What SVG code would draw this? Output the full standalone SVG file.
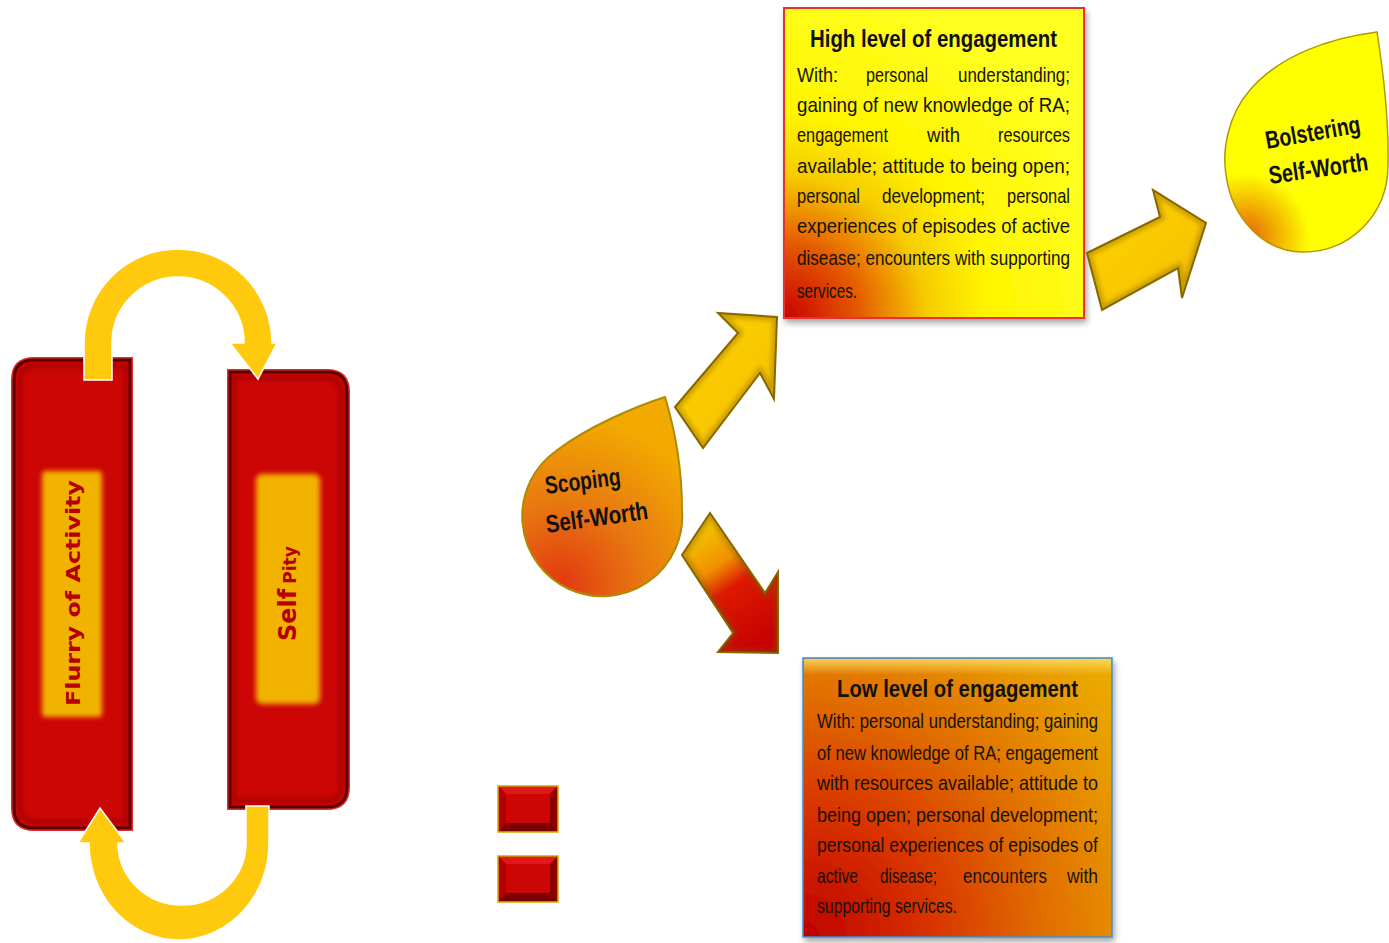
<svg xmlns="http://www.w3.org/2000/svg" width="1389" height="943" viewBox="0 0 1389 943">
<style>
.body{font-family:"Liberation Sans",Arial,sans-serif;font-size:21px;fill:#161200}
.title{font-family:"Liberation Sans",Arial,sans-serif;font-size:23px;font-weight:bold;fill:#111}
.drop{font-family:"Liberation Sans",Arial,sans-serif;font-size:25px;font-weight:bold;fill:#111}
.vert{font-family:"DejaVu Sans","Liberation Sans",sans-serif;font-weight:bold;fill:#B40000}
.redbox{fill:#CC0505;stroke:#5a0000;stroke-width:3}
.redglow{fill:none;stroke:#E23030;stroke-width:6}
.inner{fill:#F2B300;filter:url(#soft)}
.cyc{fill:#FFC90E;stroke:#fff;stroke-width:1.5}
.arrow{stroke:#8A6A00;stroke-width:2;stroke-linejoin:miter}
.abev{fill:none;stroke:#7A5A00;stroke-width:9;opacity:0.35;filter:url(#bevel)}
</style>
<defs>
<filter id="soft" x="-20%" y="-20%" width="140%" height="140%"><feGaussianBlur stdDeviation="2.5"/></filter>
<filter id="shadow" x="-10%" y="-10%" width="125%" height="125%"><feDropShadow dx="2" dy="4" stdDeviation="3" flood-color="#000" flood-opacity="0.35"/></filter>
<filter id="bevel" x="-10%" y="-10%" width="120%" height="120%"><feGaussianBlur stdDeviation="2"/></filter>
<clipPath id="clipA1"><polygon points="675,407 738,333 718,313 777,317 774,399 760,373 703,448"/></clipPath>
<clipPath id="clipA2"><polygon points="710,513 765,593 778,572 778,653 718,652 733,633 682,555"/></clipPath>
<clipPath id="clipA3"><polygon points="1087,253 1160,217 1153,190 1206,223 1182,298 1178,268 1102,310"/></clipPath>
<radialGradient id="hiGrad" gradientUnits="userSpaceOnUse" cx="784" cy="318" r="340">
<stop offset="0" stop-color="#C80000"/><stop offset="0.22" stop-color="#E55A00"/><stop offset="0.42" stop-color="#F6CC00"/><stop offset="0.6" stop-color="#FFF500"/><stop offset="1" stop-color="#FFFF20"/>
</radialGradient>
<radialGradient id="loGrad" gradientUnits="userSpaceOnUse" cx="803" cy="937" r="430">
<stop offset="0" stop-color="#C00000"/><stop offset="0.3" stop-color="#D83400"/><stop offset="0.55" stop-color="#E06C00"/><stop offset="0.8" stop-color="#E89A00"/><stop offset="1" stop-color="#EEB200"/>
</radialGradient>
<linearGradient id="loTop" x1="0" y1="0" x2="0" y2="1">
<stop offset="0" stop-color="#FFE070" stop-opacity="0.8"/><stop offset="1" stop-color="#FFE070" stop-opacity="0"/>
</linearGradient>
<radialGradient id="scopeGrad" gradientUnits="userSpaceOnUse" cx="560" cy="585" r="170">
<stop offset="0" stop-color="#E23810"/><stop offset="0.5" stop-color="#E87A10"/><stop offset="1" stop-color="#F2AA00"/>
</radialGradient>
<radialGradient id="bolsGrad" gradientUnits="userSpaceOnUse" cx="1245" cy="238" r="65">
<stop offset="0" stop-color="#E45A10"/><stop offset="0.5" stop-color="#F2B000"/><stop offset="1" stop-color="#FFFF00"/>
</radialGradient>
<linearGradient id="gold" x1="0" y1="0" x2="1" y2="1">
<stop offset="0" stop-color="#FFD400"/><stop offset="1" stop-color="#F5BE00"/>
</linearGradient>
<linearGradient id="downGrad" gradientUnits="userSpaceOnUse" x1="696" y1="534" x2="768" y2="640">
<stop offset="0" stop-color="#F4C200"/><stop offset="0.3" stop-color="#F09000"/><stop offset="0.5" stop-color="#DD1A00"/><stop offset="1" stop-color="#C80000"/>
</linearGradient>
</defs>

<!-- Flurry of Activity -->
<g id="node-flurry">
<path class="redglow" d="M34 360 L130 360 L130 828 L34 828 Q14 828 14 808 L14 380 Q14 360 34 360 Z"/>
<path class="redbox" d="M34 360 L130 360 L130 828 L34 828 Q14 828 14 808 L14 380 Q14 360 34 360 Z"/>
<path d="M36 366 L126 366 L126 822 L36 822 Q20 822 20 806 L20 382 Q20 366 36 366 Z" fill="none" stroke="#7a0000" stroke-width="3" opacity="0.6" filter="url(#bevel)"/>
<rect class="inner" x="42" y="471" width="60" height="246" rx="4"/>
<text class="vert" font-size="20" transform="translate(80,706) rotate(-90)" textLength="226" lengthAdjust="spacingAndGlyphs">Flurry of Activity</text>
</g>

<!-- Self Pity -->
<g id="node-selfpity">
<path class="redglow" d="M230 372 L327 372 Q347 372 347 392 L347 787 Q347 807 327 807 L230 807 Z"/>
<path class="redbox" d="M230 372 L327 372 Q347 372 347 392 L347 787 Q347 807 327 807 L230 807 Z"/>
<path d="M234 378 L325 378 Q341 378 341 394 L341 785 Q341 801 325 801 L234 801 Z" fill="none" stroke="#7a0000" stroke-width="3" opacity="0.6" filter="url(#bevel)"/>
<rect class="inner" x="256" y="474" width="64" height="230" rx="6"/>
<text class="vert" transform="translate(296,641) rotate(-90)"><tspan font-size="24">Self</tspan><tspan font-size="17" dx="5">Pity</tspan></text>
</g>

<!-- Scoping Self-Worth -->
<g id="node-scoping">
<path d="M556 451 A80 80 0 1 0 682 510 C682 470 675 430 665 397 C640 405 590 425 556 451 Z" fill="url(#scopeGrad)" stroke="#B08A00" stroke-width="2"/>
<text class="drop" transform="translate(546,494) rotate(-7)" textLength="76" lengthAdjust="spacingAndGlyphs">Scoping</text>
<text class="drop" transform="translate(547,533) rotate(-8)" textLength="103" lengthAdjust="spacingAndGlyphs">Self-Worth</text>
</g>

<!-- High level of engagement -->
<g id="node-high">
<rect x="784" y="8" width="300" height="310" fill="url(#hiGrad)" stroke="#E53030" stroke-width="2" filter="url(#shadow)"/>
<text class="title" x="810" y="47" textLength="247" lengthAdjust="spacingAndGlyphs">High level of engagement</text>
<text class="body" y="82"><tspan x="797" textLength="41" lengthAdjust="spacingAndGlyphs">With:</tspan> <tspan x="866" textLength="62" lengthAdjust="spacingAndGlyphs">personal</tspan> <tspan x="958" textLength="112" lengthAdjust="spacingAndGlyphs">understanding;</tspan></text>
<text class="body" x="797" y="112" textLength="273" lengthAdjust="spacingAndGlyphs">gaining of new knowledge of RA;</text>
<text class="body" y="142"><tspan x="797" textLength="91" lengthAdjust="spacingAndGlyphs">engagement</tspan> <tspan x="927" textLength="33" lengthAdjust="spacingAndGlyphs">with</tspan> <tspan x="998" textLength="72" lengthAdjust="spacingAndGlyphs">resources</tspan></text>
<text class="body" x="797" y="173" textLength="273" lengthAdjust="spacingAndGlyphs">available; attitude to being open;</text>
<text class="body" y="203"><tspan x="797" textLength="63" lengthAdjust="spacingAndGlyphs">personal</tspan> <tspan x="882" textLength="103" lengthAdjust="spacingAndGlyphs">development;</tspan> <tspan x="1007" textLength="63" lengthAdjust="spacingAndGlyphs">personal</tspan></text>
<text class="body" x="797" y="233" textLength="273" lengthAdjust="spacingAndGlyphs">experiences of episodes of active</text>
<text class="body" x="797" y="265" textLength="273" lengthAdjust="spacingAndGlyphs">disease; encounters with supporting</text>
<text class="body" x="797" y="298" textLength="60" lengthAdjust="spacingAndGlyphs">services.</text>
</g>

<!-- Low level of engagement -->
<g id="node-low">
<rect x="803" y="658" width="309" height="279" fill="url(#loGrad)" stroke="#3E8ED8" stroke-width="1.5" filter="url(#shadow)"/>
<rect x="804" y="659" width="307" height="16" fill="url(#loTop)"/>
<text class="title" x="837" y="697" textLength="241" lengthAdjust="spacingAndGlyphs">Low level of engagement</text>
<text class="body" x="817" y="728" textLength="281" lengthAdjust="spacingAndGlyphs">With: personal understanding; gaining</text>
<text class="body" x="817" y="760" textLength="281" lengthAdjust="spacingAndGlyphs">of new knowledge of RA; engagement</text>
<text class="body" x="817" y="790" textLength="281" lengthAdjust="spacingAndGlyphs">with resources available; attitude to</text>
<text class="body" x="817" y="822" textLength="281" lengthAdjust="spacingAndGlyphs">being open; personal development;</text>
<text class="body" x="817" y="852" textLength="281" lengthAdjust="spacingAndGlyphs">personal experiences of episodes of</text>
<text class="body" y="883"><tspan x="817" textLength="41" lengthAdjust="spacingAndGlyphs">active</tspan> <tspan x="880" textLength="57" lengthAdjust="spacingAndGlyphs">disease;</tspan> <tspan x="963" textLength="84" lengthAdjust="spacingAndGlyphs">encounters</tspan> <tspan x="1067" textLength="31" lengthAdjust="spacingAndGlyphs">with</tspan></text>
<text class="body" x="817" y="913" textLength="140" lengthAdjust="spacingAndGlyphs">supporting services.</text>
</g>

<!-- Bolstering Self-Worth -->
<g id="node-bolstering">
<path d="M1377 32 C1330 38 1280 55 1250 90 C1228 115 1222 150 1226 175 C1232 220 1265 252 1303 252 C1350 252 1388 215 1388 165 C1389 120 1383 70 1377 32 Z" fill="url(#bolsGrad)" stroke="#B09A00" stroke-width="1.5"/>
<text class="drop" transform="translate(1267,149) rotate(-10)" textLength="96" lengthAdjust="spacingAndGlyphs">Bolstering</text>
<text class="drop" transform="translate(1270,184) rotate(-8)" textLength="100" lengthAdjust="spacingAndGlyphs">Self-Worth</text>
</g>

<!-- Small squares -->
<g id="node-square1">
<rect x="498" y="786" width="60" height="46" fill="#CC0505" stroke="#D8A800" stroke-width="1.5"/>
<polygon points="499,787 557,787 550,794 506,794" fill="#E01818"/>
<polygon points="499,831 557,831 550,823 506,823" fill="#780000"/>
<polygon points="499,787 506,794 506,823 499,831" fill="#B00000"/>
<polygon points="557,787 550,794 550,823 557,831" fill="#8A0000"/>
</g>
<g id="node-square2">
<rect x="498" y="856" width="60" height="46" fill="#CC0505" stroke="#D8A800" stroke-width="1.5"/>
<polygon points="499,857 557,857 550,864 506,864" fill="#E01818"/>
<polygon points="499,901 557,901 550,893 506,893" fill="#780000"/>
<polygon points="499,857 506,864 506,893 499,901" fill="#B00000"/>
<polygon points="557,857 550,864 550,893 557,901" fill="#8A0000"/>
</g>

<!-- Connectors -->
<g id="connectors">
<path class="cyc" d="M84 380 L84 343 A94 94 0 0 1 272 343 L277 343 L258 379 L230 343 L244 343 A66 66 0 0 0 112 343 L112 380 Z"/>
<path class="cyc" d="M246 806 L269 806 L269 843 A90 97 0 0 1 89 843 L78 843 L100 808 L126 843 L118 843 A64 62 0 0 0 246 843 Z"/>
<polygon class="arrow" fill="url(#gold)" points="675,407 738,333 718,313 777,317 774,399 760,373 703,448"/>
<polygon class="abev" clip-path="url(#clipA1)" points="675,407 738,333 718,313 777,317 774,399 760,373 703,448"/>
<polygon class="arrow" fill="url(#downGrad)" points="710,513 765,593 778,572 778,653 718,652 733,633 682,555"/>
<polygon class="abev" clip-path="url(#clipA2)" points="710,513 765,593 778,572 778,653 718,652 733,633 682,555"/>
<polygon class="arrow" fill="url(#gold)" points="1087,253 1160,217 1153,190 1206,223 1182,298 1178,268 1102,310"/>
<polygon class="abev" clip-path="url(#clipA3)" points="1087,253 1160,217 1153,190 1206,223 1182,298 1178,268 1102,310"/>
</g>
</svg>
